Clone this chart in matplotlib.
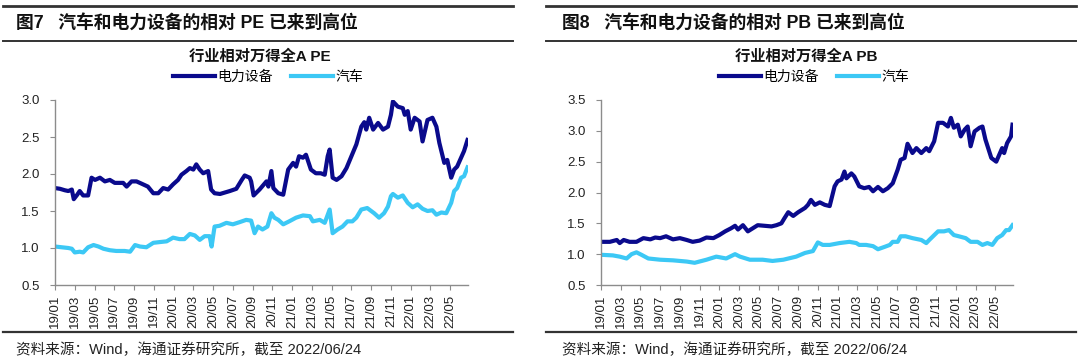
import matplotlib
matplotlib.use("Agg")
import matplotlib.pyplot as plt
from matplotlib.lines import Line2D

plt.rcParams['font.family'] = ['Liberation Sans', 'Noto Sans CJK SC']
plt.rcParams['axes.unicode_minus'] = False

# months since 2019/01 and values
pe_power_t = [0, 0.5, 1.0, 1.35, 1.7, 1.9, 2.25, 2.5, 2.85, 3.35, 3.7, 4.05, 4.55, 5.05,
              5.55, 6.05, 6.9, 7.25, 7.75, 8.25, 8.75, 9.4, 9.95, 10.45, 10.95, 11.45,
              11.95, 12.45, 12.8, 13.3, 13.65, 14.0, 14.3, 14.65, 15.0, 15.5, 15.8, 16.15,
              16.7, 17.7, 18.35, 18.9, 19.2, 19.7, 19.85, 20.1, 20.7, 21.4, 21.6, 21.9,
              22.1, 22.6, 23.1, 23.6, 24.1, 24.4, 24.7, 25.1, 25.4, 25.9, 26.4, 26.9,
              27.3, 27.6, 27.8, 28.1, 28.5, 29.0, 29.5, 30.0, 30.5, 31.0, 31.3, 31.5,
              31.8, 32.2, 32.7, 33.2, 33.7, 34.0, 34.2, 34.7, 35.2, 35.4, 35.7, 36.0,
              36.4, 36.9, 37.2, 37.7, 38.2, 38.6, 38.9, 39.4, 39.7, 40.1, 40.4, 40.7,
              41.1, 41.4, 41.75]
pe_power_v = [1.81, 1.80, 1.78, 1.77, 1.79, 1.66, 1.72, 1.77, 1.71, 1.71, 1.95, 1.92, 1.95, 1.90,
              1.92, 1.88, 1.88, 1.83, 1.90, 1.90, 1.87, 1.83, 1.74, 1.74, 1.81, 1.79,
              1.86, 1.92, 1.99, 2.04, 2.08, 2.06, 2.13, 2.06, 2.01, 2.04, 1.79, 1.74,
              1.73, 1.77, 1.80, 1.92, 1.98, 1.95, 1.90, 1.71, 1.79, 1.90, 1.83, 2.04,
              1.81, 1.74, 1.72, 2.06, 2.15, 2.10, 2.24, 2.22, 2.26, 2.06, 2.01, 2.01,
              1.99, 2.24, 2.33, 1.95, 1.92, 1.97, 2.08, 2.24, 2.40, 2.64, 2.70, 2.60,
              2.76, 2.60, 2.69, 2.60, 2.64, 2.80, 2.98, 2.91, 2.89, 2.80, 2.85, 2.60,
              2.76, 2.71, 2.44, 2.73, 2.76, 2.64, 2.42, 2.15, 2.19, 1.95, 2.06, 2.10,
              2.22, 2.31, 2.46]

pe_auto_t = [0, 0.67, 1.35, 1.7, 2.0, 2.5, 2.85, 3.35, 3.9, 4.4, 4.9, 5.55, 6.2, 7.05,
             7.6, 8.1, 8.6, 9.25, 9.95, 10.6, 11.3, 11.95, 12.6, 13.1, 13.65, 14.15,
             14.65, 15.15, 15.65, 15.85, 16.15, 16.65, 17.35, 18.0, 18.7, 19.35, 19.85,
             20.2, 20.55, 21.0, 21.5, 21.9, 22.2, 22.6, 23.1, 23.7, 24.4, 25.1, 25.8,
             26.1, 26.8, 27.3, 27.8, 28.1, 28.6, 29.1, 29.6, 30.1, 30.5, 31.0, 31.6,
             32.3, 32.8, 33.3, 33.7, 34.0, 34.2, 34.7, 35.2, 35.7, 36.2, 36.7, 37.2,
             37.7, 38.2, 38.6, 39.1, 39.6, 40.1, 40.4, 40.7, 41.1, 41.4, 41.75]
pe_auto_v = [1.02, 1.01, 1.00, 0.99, 0.94, 0.95, 0.94, 1.01, 1.04, 1.02, 0.99, 0.97, 0.96, 0.96,
             0.95, 1.04, 1.02, 1.01, 1.07, 1.08, 1.09, 1.14, 1.12, 1.12, 1.19, 1.17,
             1.11, 1.16, 1.16, 1.02, 1.29, 1.30, 1.34, 1.32, 1.35, 1.38, 1.37,
             1.20, 1.29, 1.25, 1.29, 1.47, 1.41, 1.38, 1.32, 1.36, 1.41, 1.44, 1.43,
             1.36, 1.38, 1.34, 1.52, 1.20, 1.25, 1.29, 1.36, 1.36, 1.41, 1.52, 1.54,
             1.47, 1.41, 1.47, 1.56, 1.70, 1.73, 1.68, 1.71, 1.61, 1.55, 1.59, 1.53,
             1.50, 1.51, 1.45, 1.48, 1.47, 1.61, 1.77, 1.81, 1.95, 1.97, 2.09]

pb_power_t = [0, 0.9, 1.6, 1.9, 2.3, 2.9, 3.6, 4.3, 5.0, 5.5, 6.0, 6.6, 7.3, 8.0, 8.7,
              9.3, 10.0, 10.7, 11.4, 12.0, 12.6, 13.2, 13.6, 13.9, 14.4, 14.9, 15.4,
              15.9, 16.6, 17.3, 17.8, 18.3, 18.6, 19.0, 19.5, 20.0, 20.7, 21.0, 21.3,
              21.7, 22.2, 22.7, 23.2, 23.7, 24.0, 24.4, 24.7, 24.9, 25.4, 25.7, 26.2,
              26.7, 27.2, 27.6, 28.1, 28.6, 29.1, 29.6, 30.1, 30.4, 30.8, 31.1, 31.6,
              32.0, 32.5, 33.0, 33.3, 33.8, 34.2, 34.7, 35.2, 35.5, 35.8, 36.2, 36.5,
              36.9, 37.2, 37.5, 37.9, 38.4, 38.7, 39.0, 39.6, 40.1, 40.4, 40.7, 40.9,
              41.2, 41.6, 41.75]
pb_power_v = [1.20, 1.20, 1.23, 1.18, 1.23, 1.20, 1.20, 1.26, 1.24, 1.27, 1.26, 1.29, 1.24, 1.26, 1.23,
              1.20, 1.22, 1.27, 1.26, 1.31, 1.37, 1.42, 1.46, 1.40, 1.47, 1.37, 1.42,
              1.47, 1.46, 1.45, 1.47, 1.50, 1.58, 1.68, 1.62, 1.68, 1.75, 1.80, 1.88,
              1.80, 1.84, 1.80, 1.78, 2.10, 2.18, 2.21, 2.34, 2.23, 2.31, 2.26, 2.10,
              2.07, 2.09, 2.02, 2.09, 2.02, 2.07, 2.15, 2.37, 2.53, 2.56, 2.79, 2.64,
              2.72, 2.64, 2.72, 2.67, 2.83, 3.13, 3.13, 3.07, 3.21, 3.05, 3.10, 2.91,
              3.02, 3.07, 2.75, 2.99, 3.05, 3.07, 2.86, 2.56, 2.50, 2.61, 2.72, 2.64,
              2.80, 2.91, 3.10]

pb_auto_t = [0, 1.2, 1.9, 2.6, 3.1, 3.6, 4.1, 4.8, 6.0, 7.3, 8.7, 9.5, 10.7, 11.7, 12.7,
             13.6, 14.1, 15.1, 16.4, 17.4, 18.5, 19.8, 20.7, 21.5, 22.0, 22.5, 23.2,
             24.2, 25.2, 25.9, 26.2, 26.9, 27.6, 28.1, 28.8, 29.3, 29.6, 30.1, 30.4,
             30.9, 31.6, 32.5, 33.0, 33.3, 34.2, 34.8, 35.3, 35.8, 36.3, 37.0, 37.5,
             38.2, 38.7, 39.2, 39.7, 40.2, 40.7, 41.1, 41.4, 41.75]
pb_auto_v = [0.99, 0.98, 0.96, 0.93, 1.00, 1.03, 0.99, 0.93, 0.91, 0.90, 0.88, 0.86, 0.91, 0.96, 0.93,
             1.00, 0.96, 0.91, 0.91, 0.89, 0.91, 0.96, 1.02, 1.05, 1.19, 1.15, 1.15,
             1.18, 1.20, 1.18, 1.15, 1.15, 1.13, 1.08, 1.12, 1.15, 1.20, 1.20, 1.29,
             1.29, 1.26, 1.23, 1.18, 1.23, 1.37, 1.37, 1.39, 1.31, 1.29, 1.26, 1.20,
             1.20, 1.15, 1.18, 1.15, 1.26, 1.31, 1.39, 1.39, 1.47]

tick_labels = ['19/01', '19/03', '19/05', '19/07', '19/09', '19/11', '20/01', '20/03',
               '20/05', '20/07', '20/09', '20/11', '21/01', '21/03', '21/05', '21/07',
               '21/09', '21/11', '22/01', '22/03', '22/05']

dark = '#0A0A8C'
light = '#3CC8F5'
W, H = 1080, 362

fig = plt.figure(figsize=(W / 100, H / 100), dpi=100)


def hline(x0, x1, y, lw):
    fig.add_artist(Line2D([x0 / W, x1 / W], [1 - y / H, 1 - y / H], color='#333333', lw=lw))


def panel(left, right, x_text, header, title, leg_x, power_t, power_v, auto_t, auto_v, ymax):
    ax = fig.add_axes([left / W, 1 - 285 / H, (right - left) / W, 185 / H])
    ax.plot(power_t, power_v, color=dark, lw=3.0, label='电力设备', solid_joinstyle='round')
    ax.plot(auto_t, auto_v, color=light, lw=3.0, label='汽车', solid_joinstyle='round')
    ax.set_xlim(0, 41.8)
    ax.set_ylim(0.5, ymax)
    n = int(round((ymax - 0.5) / 0.5)) + 1
    ax.set_yticks([0.5 + 0.5 * i for i in range(n)])
    ax.set_yticklabels([f'{0.5 + 0.5 * i:.1f}' for i in range(n)])
    ax.set_xticks(range(0, 41, 2))
    ax.set_xticklabels(tick_labels, rotation=90)
    for s in ['top', 'right']:
        ax.spines[s].set_visible(False)
    for s in ['left', 'bottom']:
        ax.spines[s].set_color('#8c8c8c')
        ax.spines[s].set_linewidth(1.0)
    ax.tick_params(axis='both', direction='out', length=3.6, color='#8c8c8c',
                   labelsize=9.5, labelcolor='#222222', pad=3.5)
    ax.tick_params(axis='y', pad=7.5)
    ax.legend(loc='center', bbox_to_anchor=(leg_x / W, 1 - 77 / H),
              bbox_transform=fig.transFigure, ncol=2, frameon=False,
              fontsize=10, handlelength=3.0, handletextpad=0.2, columnspacing=1.3)
    fig.text(x_text / W, 1 - 23 / H, header, fontsize=12.8, fontweight='bold',
             va='center', ha='left', color='#111111')
    fig.text((leg_x - 8) / W, 1 - 57 / H, title, fontsize=11, fontweight='bold',
             va='center', ha='center', color='#111111')
    fig.text(x_text / W, 1 - 350 / H, '资料来源：Wind，海通证券研究所，截至 2022/06/24',
             fontsize=10.5, va='center', ha='left', color='#222222')


panel(55, 468, 16, '图7   汽车和电力设备的相对 PE 已来到高位', '行业相对万得全A PE', 268,
      pe_power_t, pe_power_v, pe_auto_t, pe_auto_v, 3.0)
panel(601, 1013, 562, '图8   汽车和电力设备的相对 PB 已来到高位', '行业相对万得全A PB', 814,
      pb_power_t, pb_power_v, pb_auto_t, pb_auto_v, 3.5)

for x0, x1 in [(3, 513), (546, 1076)]:
    hline(x0, x1, 6, 2.0)
    hline(x0, x1, 41, 1.4)
    hline(x0, x1, 332, 1.6)

fig.savefig('out.png', dpi=100)
